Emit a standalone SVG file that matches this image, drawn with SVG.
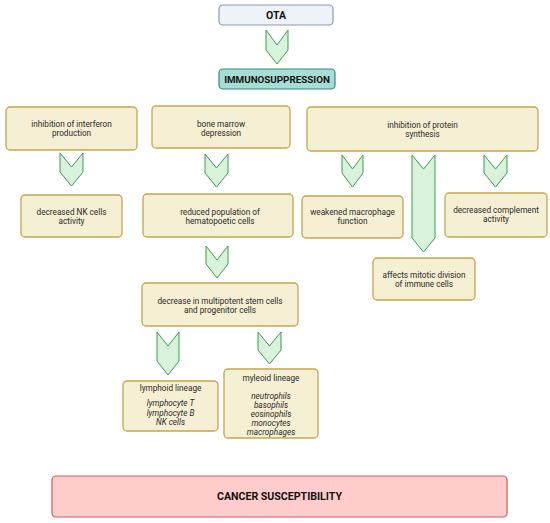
<svg xmlns="http://www.w3.org/2000/svg" width="550" height="523" viewBox="0 0 550 523">
<defs>
<style>
.box{fill:#f5f0d3;stroke:#c4a64c;stroke-width:1.3}
.chev{fill:#d9f2dc;stroke:#3f9a4f;stroke-width:1}
.t{font-family:Roboto,"Liberation Sans",sans-serif;font-size:8.2px;fill:#2a2a2a;text-anchor:middle}
.i{font-style:italic}
.b{font-family:Roboto,"Liberation Sans",sans-serif;font-weight:bold;fill:#111;text-anchor:middle}
</style>
</defs>
<rect width="550" height="523" fill="#fff"/>
<g id="connectors">
<path class="chev" d="M266,30 L277,45 L288,30 L288,50 L277,64 L266,50 Z"/>
<path class="chev" d="M60,153 L71.5,167 L83,153 L83,172 L71.5,186 L60,172 Z"/>
<path class="chev" d="M205,154 L216.5,168 L228,154 L228,173 L216.5,187 L205,173 Z"/>
<path class="chev" d="M342,155 L352.5,169 L363,155 L363,173 L352.5,187 L342,173 Z"/>
<path class="chev" d="M412,155 L423.5,169 L435,155 L435,238 L423.5,252 L412,238 Z"/>
<path class="chev" d="M484,155 L495.5,169 L507,155 L507,173 L495.5,187 L484,173 Z"/>
<path class="chev" d="M206,246 L217,260 L228,246 L228,264 L217,278 L206,264 Z"/>
<path class="chev" d="M157,332 L168,346 L179,332 L179,361 L168,375 L157,361 Z"/>
<path class="chev" d="M258,332 L269.5,346 L281,332 L281,350 L269.5,364 L258,350 Z"/>
</g>
<g id="ota">
<rect x="219" y="5" width="114" height="20" rx="4" fill="#eef2f9" stroke="#8d9bb5" stroke-width="1.2"/>
<text class="b" x="276" y="19" font-size="10.5">OTA</text>
</g>
<g id="immunosuppression">
<rect x="219" y="69" width="116" height="20" rx="4" fill="#a7ddd5" stroke="#2f8b80" stroke-width="1.2"/>
<text class="b" x="277" y="82.8" font-size="9.8">IMMUNOSUPPRESSION</text>
</g>
<g id="interferon">
<rect class="box" x="6" y="107" width="131" height="43" rx="4"/>
<text class="t" x="71.5" y="127">inhibition of interferon</text>
<text class="t" x="71.5" y="136">production</text>
</g>
<g id="bonemarrow">
<rect class="box" x="152" y="106" width="138" height="42" rx="4"/>
<text class="t" x="221" y="127">bone marrow</text>
<text class="t" x="221" y="136">depression</text>
</g>
<g id="protein">
<rect class="box" x="307" y="107" width="231" height="44" rx="4"/>
<text class="t" x="422.5" y="127.5">inhibition of protein</text>
<text class="t" x="422.5" y="136.5">synthesis</text>
</g>
<g id="nkcells">
<rect class="box" x="21" y="195" width="101" height="42" rx="4"/>
<text class="t" x="71.5" y="215">decreased NK cells</text>
<text class="t" x="71.5" y="224">activity</text>
</g>
<g id="hematopoetic">
<rect class="box" x="143" y="194" width="150" height="43" rx="4"/>
<text class="t" x="220" y="215">reduced population of</text>
<text class="t" x="220" y="224">hematopoetic cells</text>
</g>
<g id="macrophage">
<rect class="box" x="302" y="196" width="101" height="42" rx="4"/>
<text class="t" x="352.5" y="215">weakened macrophage</text>
<text class="t" x="352.5" y="224">function</text>
</g>
<g id="complement">
<rect class="box" x="445" y="193" width="102" height="44" rx="4"/>
<text class="t" x="496" y="213">decreased complement</text>
<text class="t" x="496" y="222">activity</text>
</g>
<g id="mitotic">
<rect class="box" x="373" y="258" width="102" height="42" rx="4"/>
<text class="t" x="424" y="278">affects mitotic division</text>
<text class="t" x="424" y="287">of immune cells</text>
</g>
<g id="stemcells">
<rect class="box" x="142" y="283" width="156" height="43" rx="4"/>
<text class="t" x="220" y="304">decrease in multipotent stem cells</text>
<text class="t" x="220" y="312.5">and progenitor cells</text>
</g>
<g id="lymphoid">
<rect class="box" x="123" y="381" width="95" height="50" rx="4"/>
<text class="t" x="170.5" y="391">lymphoid lineage</text>
<text class="t i" x="170.5" y="406">lymphocyte T</text>
<text class="t i" x="170.5" y="415.5">lymphocyte B</text>
<text class="t i" x="170.5" y="425">NK cells</text>
</g>
<g id="myeloid">
<rect class="box" x="224" y="369" width="94" height="69" rx="4"/>
<text class="t" x="271" y="381">myleoid lineage</text>
<text class="t i" x="271" y="399">neutrophils</text>
<text class="t i" x="271" y="408">basophils</text>
<text class="t i" x="271" y="417">eosinophils</text>
<text class="t i" x="271" y="426">monocytes</text>
<text class="t i" x="271" y="435">macrophages</text>
</g>
<g id="cancer">
<rect x="52" y="476" width="455" height="41" rx="4" fill="#ffcccc" stroke="#d05a5a" stroke-width="1.2"/>
<text class="b" x="279.5" y="499.5" font-size="10.6">CANCER SUSCEPTIBILITY</text>
</g>
</svg>
